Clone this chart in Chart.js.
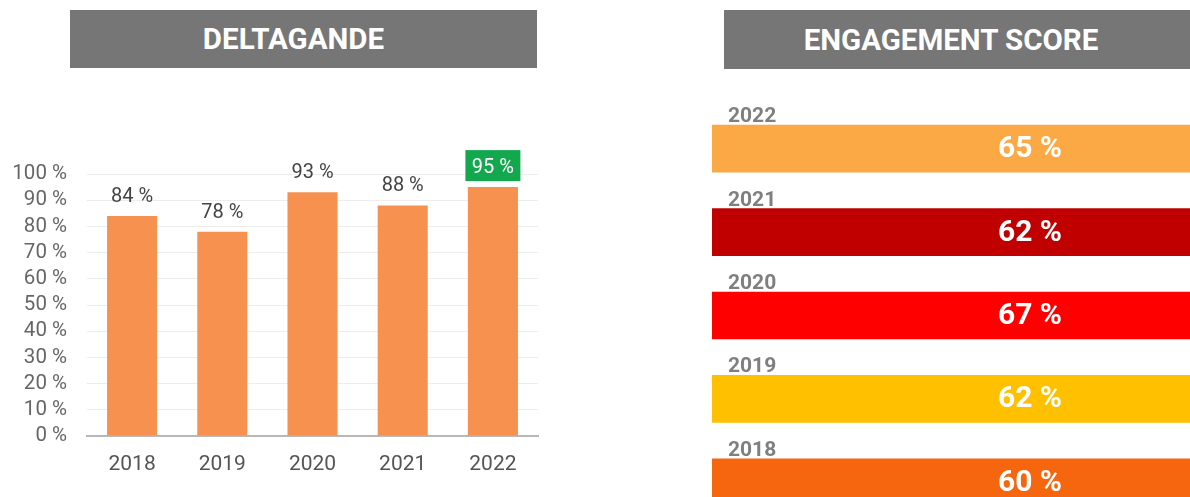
<!DOCTYPE html>
<html>
<head>
<meta charset="utf-8">
<script src="https://cdn.jsdelivr.net/npm/chart.js@4"></script>
<style>
html,body{margin:0;padding:0;width:1190px;height:497px;overflow:hidden;background:#fff;font-family:Roboto,sans-serif}
body{position:relative}
.hdr{position:absolute;background:#767676;color:#fff;font-weight:700;font-size:29.5px;display:flex;align-items:center;justify-content:center;box-sizing:border-box;font-family:Roboto,sans-serif}
#h1{left:70px;top:10px;width:467px;height:58px;padding-right:20px}
#h2{left:724px;top:10px;width:500px;height:59px;padding-right:46px}
.wrap{position:absolute}
#w1{left:0;top:80px;width:560px;height:417px}
#w2{left:700px;top:90px;width:660px;height:440px}
</style>
</head>
<body>
<div class="hdr" id="h1">DELTAGANDE</div>
<div class="hdr" id="h2">ENGAGEMENT SCORE</div>
<div class="wrap" id="w1"><canvas id="c1" width="560" height="417"></canvas></div>
<div class="wrap" id="w2"><canvas id="c2" width="660" height="440"></canvas></div>
<script>
// ---- data ----
const participationYears = ['2018', '2019', '2020', '2021', '2022'];
const participationValues = [84, 78, 93, 88, 95];

const engagementYears = ['2022', '2021', '2020', '2019', '2018'];
const engagementScores = [65, 62, 67, 62, 60];
const engagementColors = ['#FBA944', '#C00000', '#FF0000', '#FFC000', '#F5660F'];
const engagementTrackMax = 100; // each card is a full-width track

// ---- left chart: column bars with value labels ----
const pctLabels = {
  id: 'pctLabels',
  afterDatasetsDraw(chart) {
    const ctx = chart.ctx;
    const meta = chart.getDatasetMeta(0);
    const vals = chart.data.datasets[0].data;
    const maxV = Math.max(...vals);
    ctx.save();
    ctx.font = '20px Roboto, sans-serif';
    ctx.textAlign = 'center';
    ctx.textBaseline = 'alphabetic';
    meta.data.forEach((el, i) => {
      const txt = vals[i] + ' %';
      if (vals[i] === maxV) {
        const w = 55, h = 31;
        ctx.fillStyle = '#13A84E';
        ctx.fillRect(el.x - w / 2, el.y - 6 - h, w, h);
        ctx.fillStyle = '#ffffff';
        ctx.fillText(txt, el.x, el.y - 14);
      } else {
        ctx.fillStyle = '#444444';
        ctx.fillText(txt, el.x, el.y - 14);
      }
    });
    ctx.restore();
  }
};

new Chart(document.getElementById('c1'), {
  type: 'bar',
  data: {
    labels: participationYears,
    datasets: [{
      data: participationValues,
      backgroundColor: '#F7914F',
      barPercentage: 0.555,
      categoryPercentage: 1
    }]
  },
  options: {
    responsive: false,
    animation: false,
    layout: { padding: { top: 94, left: 0, right: 22, bottom: 0 } },
    plugins: { legend: { display: false }, tooltip: { enabled: false } },
    scales: {
      x: {
        grid: { display: false },
        border: { color: '#b8b8b8', width: 2 },
        ticks: { color: '#555', font: { family: 'Roboto', size: 21 }, padding: 8 },
        afterFit(s) { s.height = 61; }
      },
      y: {
        min: 0, max: 100,
        ticks: { stepSize: 10, autoSkip: false, callback: v => v + ' %', color: '#666', font: { family: 'Roboto', size: 20.5 }, padding: 20 },
        grid: { color: '#ededed', drawTicks: false },
        border: { display: false },
        afterFit(s) { s.width = 87; }
      }
    }
  },
  plugins: [pctLabels]
});

// ---- right chart: score cards ----
const cardLabels = {
  id: 'cardLabels',
  afterDatasetsDraw(chart) {
    const ctx = chart.ctx;
    const meta = chart.getDatasetMeta(0);
    ctx.save();
    meta.data.forEach((el, i) => {
      const left = Math.min(el.x, el.base);
      const right = Math.max(el.x, el.base);
      const top = el.y - el.height / 2;
      ctx.font = 'bold 21px Roboto, sans-serif';
      ctx.fillStyle = '#7f7f7f';
      ctx.textAlign = 'left';
      ctx.textBaseline = 'alphabetic';
      ctx.fillText(chart.data.labels[i], left + 16, top - 3);
      ctx.font = 'bold 30px Roboto, sans-serif';
      ctx.fillStyle = '#ffffff';
      ctx.textAlign = 'center';
      ctx.textBaseline = 'middle';
      ctx.fillText(engagementScores[i] + ' %', (left + right) / 2, el.y + 1);
    });
    ctx.restore();
  }
};

new Chart(document.getElementById('c2'), {
  type: 'bar',
  data: {
    labels: engagementYears,
    datasets: [{
      data: engagementScores.map(() => engagementTrackMax),
      backgroundColor: engagementColors,
      barThickness: 47
    }]
  },
  options: {
    indexAxis: 'y',
    responsive: false,
    animation: false,
    layout: { padding: { top: 17, left: 12, right: 12, bottom: 6 } },
    plugins: { legend: { display: false }, tooltip: { enabled: false } },
    scales: {
      x: { display: false, min: 0, max: engagementTrackMax },
      y: { display: false }
    }
  },
  plugins: [cardLabels]
});
</script>
</body>
</html>
